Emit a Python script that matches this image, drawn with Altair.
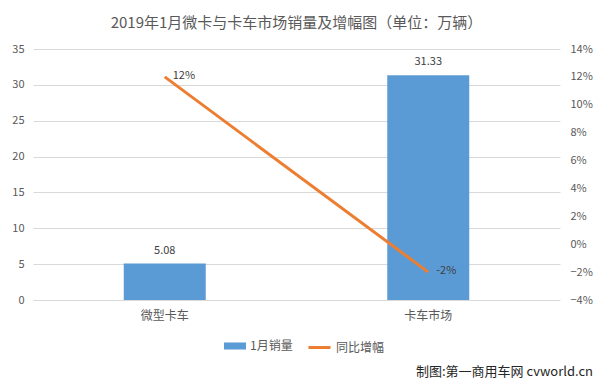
import altair as alt
import pandas as pd

categories = ["微型卡车", "卡车市场"]
sales = [5.08, 31.33]
growth = [0.12, -0.02]
sales_labels = ["5.08", "31.33"]
growth_labels = ["12%", "-2%"]
series_names = ["1月销量", "同比增幅"]
watermark = "制图:第一商用车网 cvworld.cn"

df = pd.DataFrame({
    "cat": categories,
    "sales": sales,
    "growth": growth,
    "sl": sales_labels,
    "gl": growth_labels,
    "s1": [series_names[0]] * 2,
    "s2": [series_names[1]] * 2,
})

FONT = "Noto Sans CJK SC"
GREY = "#595959"

x = alt.X("cat:N", sort=categories, title=None,
          scale=alt.Scale(paddingInner=0, paddingOuter=0),
          axis=alt.Axis(labelAngle=0, domain=False, ticks=False, labelPadding=10,
                        labelFontSize=12, labelColor=GREY, labelFont=FONT))

y_left = alt.Y("sales:Q", title=None,
               scale=alt.Scale(domain=[0, 35], nice=False),
               axis=alt.Axis(values=[0, 5, 10, 15, 20, 25, 30, 35], domain=False, ticks=False,
                             labelOverlap=False,
                             labelPadding=9, gridColor="#D9D9D9", labelFontSize=11,
                             labelColor=GREY, labelFont=FONT))

y_right = alt.Y("growth:Q", title=None,
                scale=alt.Scale(domain=[-0.04, 0.14], nice=False),
                axis=alt.Axis(orient="right", format=".0%",
                              values=[-0.04, -0.02, 0, 0.02, 0.04, 0.06, 0.08, 0.10, 0.12, 0.14],
                              labelOverlap=False,
                              domain=False, ticks=False, grid=False, labelPadding=10,
                              labelFontSize=11, labelColor=GREY, labelFont=FONT))

bars = alt.Chart(df).mark_bar(size=82).encode(
    x=x,
    y=y_left,
    color=alt.Color("s1:N", scale=alt.Scale(domain=[series_names[0]], range=["#5B9BD5"]),
                    legend=alt.Legend(title=None, orient="none", legendX=191, legendY=286,
                                      symbolType="M-1,-0.32L1,-0.32L1,0.32L-1,0.32Z",
                                      symbolSize=484, symbolStrokeWidth=0,
                                      labelFontSize=12, labelColor=GREY, labelFont=FONT)),
)

bar_text = alt.Chart(df).mark_text(dy=-13, fontSize=11, color="#404040", font=FONT).encode(
    x=x,
    y=y_left,
    text="sl:N",
)

left = alt.layer(bars, bar_text)

line = alt.Chart(df).mark_line(strokeWidth=3).encode(
    x=x,
    y=y_right,
    stroke=alt.Stroke("s2:N", scale=alt.Scale(domain=[series_names[1]], range=["#ED7D31"]),
                      legend=alt.Legend(title=None, orient="none", legendX=274, legendY=286,
                                        symbolType="stroke", symbolSize=484,
                                        symbolStrokeWidth=3,
                                        labelFontSize=12, labelColor=GREY, labelFont=FONT)),
)

line_text = alt.Chart(df).mark_text(align="left", dx=8, dy=-1, fontSize=11,
                                     color="#404040", font=FONT).encode(
    x=x,
    y=y_right,
    text="gl:N",
)

right = alt.layer(line, line_text)

mark_wm = alt.Chart(pd.DataFrame({"t": [watermark]})).mark_text(
    align="right", baseline="bottom", fontSize=13, color="#262626", font=FONT
).encode(x=alt.value(560), y=alt.value(330), text="t:N")

chart = alt.layer(left, right, mark_wm).resolve_scale(y="independent").properties(
    width=527,
    height=251,
    autosize=alt.AutoSizeParams(type="none"),
    padding={"left": 25, "top": 41, "right": 37, "bottom": 81},
    title=alt.TitleParams("2019年1月微卡与卡车市场销量及增幅图（单位：万辆）",
                          fontSize=15, fontWeight="normal", color=GREY, font=FONT,
                          anchor="middle", offset=12),
    background="white",
).configure_view(stroke=None)

chart.save("out.html", embed_options={"renderer": "svg", "actions": False})
